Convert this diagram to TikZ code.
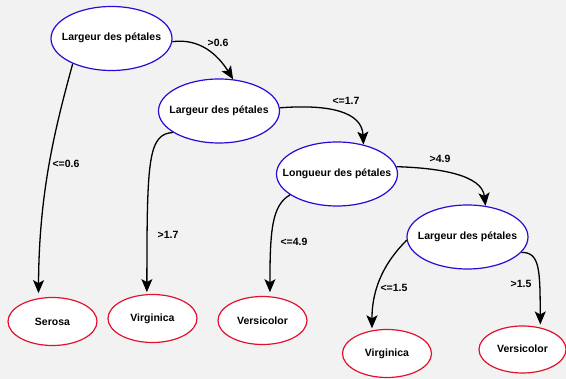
\documentclass[tikz,border=0pt]{standalone}
\usepackage{fontspec}
\setmainfont{Liberation Sans}
\usetikzlibrary{arrows.meta,shapes.geometric}
\definecolor{bg}{HTML}{F2F2F2}
\definecolor{nodeblue}{HTML}{2A0AD8}
\definecolor{nodered}{HTML}{E2102C}
\tikzset{
  inner/.style={ellipse,draw=nodeblue,fill=white,line width=1.2pt,minimum width=121pt,minimum height=64pt,inner xsep=-12pt,inner ysep=0pt,font=\fontsize{10.5}{12}\selectfont\bfseries},
  leaf/.style={ellipse,draw=nodered,fill=white,line width=1.2pt,minimum width=89pt,minimum height=48pt,inner sep=0pt,font=\fontsize{10.5}{12}\selectfont\bfseries},
  edge/.style={line width=1.3pt,-{Stealth[length=13pt,width=11pt,inset=3pt]}},
  lbl/.style={font=\fontsize{10.5}{12}\selectfont\bfseries,inner sep=0pt}
}
\begin{document}
\begin{tikzpicture}[x=1pt,y=-1pt]
\fill[bg] (0,0) rectangle (566,379);
\useasboundingbox (0,0) rectangle (566,379);
\node[inner] (n1) at (111.5,38.5) {\raisebox{3pt}{Largeur des pétales}};
\node[inner] (n2) at (219,111) {\raisebox{3pt}{Largeur des pétales}};
\node[inner] (n3) at (337,174) {\raisebox{2pt}{Longueur des pétales}};
\node[inner] (n4) at (467.5,237) {\raisebox{3pt}{Largeur des pétales}};
\node[leaf] (l1) at (52.5,321.5) {Serosa};
\node[leaf] (l2) at (152.5,318.5) {\raisebox{2pt}{Virginica}};
\node[leaf] (l3) at (262.5,320.5) {Versicolor};
\node[leaf] (l4) at (387,353.5) {Virginica};
\node[leaf,minimum width=87pt,minimum height=47pt] (l5) at (522.5,349.5) {\raisebox{2pt}{Versicolor}};
% edges
\draw[edge] (n1.-3) .. controls (200,38) and (218,55) .. (n2.66);
\draw[edge,shorten >=5pt] (n1.213) .. controls (56,125) and (39,190) .. (l1.121);
\draw[edge,shorten >=2pt] (n2.205) .. controls (148,134) and (147,160) .. (l2.103);
\draw[edge] (n2.3) .. controls (330,104) and (362,112) .. (n3.48);
\draw[edge,shorten >=4pt] (n3.204) .. controls (272,205) and (270,230) .. (l3.73);
\draw[edge] (n3.7) .. controls (440,168) and (482,175) .. (n4.60);
\draw[edge,shorten >=2pt] (n4.183) .. controls (392,255) and (372,280) .. (l4.123);
\draw[edge,shorten >=3pt] (n4.-16) .. controls (540,252) and (540,270) .. (l5.51);
% labels
\node[lbl] (t1) at (218,43) {>0.6};
\node[lbl] (t2) at (66,164) {<=0.6};
\node[lbl] (t3) at (168,235) {>1.7};
\node[lbl] (t4) at (346,101) {<=1.7};
\node[lbl] (t5) at (294,242) {<=4.9};
\node[lbl] (t6) at (440,159) {>4.9};
\node[lbl] (t7) at (394,288) {<=1.5};
\node[lbl] (t8) at (521,284) {>1.5};
\end{tikzpicture}
\end{document}
